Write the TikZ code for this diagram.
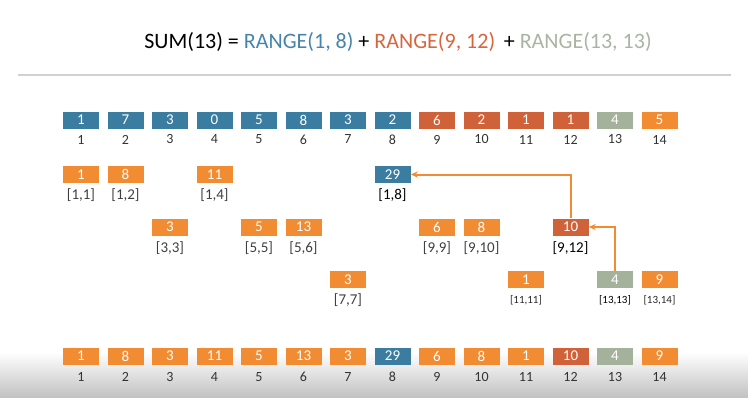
\documentclass[tikz,border=0pt]{standalone}
\usepackage{fontspec}
\setmainfont{Carlito}
\usetikzlibrary{arrows.meta,positioning}

\definecolor{cblue}{RGB}{58,125,160}
\definecolor{cred}{RGB}{208,98,58}
\definecolor{cgreen}{RGB}{165,178,155}
\definecolor{corange}{RGB}{242,140,51}
\definecolor{tblue}{RGB}{70,132,172}
\definecolor{tred}{RGB}{214,102,62}
\definecolor{tgreen}{RGB}{170,180,162}

\begin{document}
\begin{tikzpicture}[x=1pt, y=-1pt, >=Stealth,
    cell/.style={minimum width=36pt, minimum height=17pt, inner sep=0pt, text=white, font=\fontsize{15}{15}\selectfont},
    idx/.style={inner sep=0pt, text=black!80, font=\fontsize{14}{14}\selectfont},
    rng/.style={inner sep=0pt, text=black!75, font=\fontsize{15}{15}\selectfont},
    rngs/.style={inner sep=0pt, text=black!85, font=\fontsize{11}{11}\selectfont},
    link/.style={corange, line width=2pt, arrows={-Stealth[length=7pt, width=6pt]}}]
    \useasboundingbox (0,0) rectangle (748,397);
    \shade[top color=white, bottom color=black!24] (0,352) rectangle (748,397);
    % title and rule
    \node (title) at (398,42) {\fontsize{22}{24}\selectfont SUM(13) = \textcolor{tblue}{RANGE(1, 8)} + \textcolor{tred}{RANGE(9, 12)}\, + \textcolor{tgreen}{RANGE(13, 13)}};
    \draw[black!18, line width=1.6pt] (18,75) -- (731,75);
    % array a
    \foreach \v/\c [count=\i] in {1/cblue,7/cblue,3/cblue,0/cblue,5/cblue,8/cblue,3/cblue,2/cblue,6/cred,2/cred,1/cred,1/cred,4/cgreen,5/corange} {
        \node[cell, fill=\c] (a\i) at ({81+(\i-1)*44.5},120) {\v};
        \node[idx] at ([yshift=-19.5pt]a\i.center) {\i};
    }
    % tree array c
    \foreach \v/\c [count=\i] in {1/corange,8/corange,3/corange,11/corange,5/corange,13/corange,3/corange,29/cblue,6/corange,8/corange,1/corange,10/cred,4/cgreen,9/corange} {
        \node[cell, fill=\c] (c\i) at ({81+(\i-1)*44.5},356) {\v};
        \node[idx] at ([yshift=-21pt]c\i.center) {\i};
    }
    % level 1
    \node[cell, fill=corange] (r1-1) at (81,174.5) {1};
    \node[rng] at ([yshift=-21pt]r1-1.center) {[1,1]};
    \node[cell, fill=corange] (r1-2) at (125.5,174.5) {8};
    \node[rng] at ([yshift=-21pt]r1-2.center) {[1,2]};
    \node[cell, fill=corange] (r1-4) at (214.5,174.5) {11};
    \node[rng] at ([yshift=-21pt]r1-4.center) {[1,4]};
    \node[cell, fill=cblue] (r1-8) at (392.5,174.5) {29};
    \node[rng, text=black] at ([yshift=-21pt]r1-8.center) {[1,8]};
    % level 2
    \node[cell, fill=corange] (r3-3) at (170,227) {3};
    \node[rng] at ([yshift=-21pt]r3-3.center) {[3,3]};
    \node[cell, fill=corange] (r5-5) at (259,227) {5};
    \node[rng] at ([yshift=-21pt]r5-5.center) {[5,5]};
    \node[cell, fill=corange] (r5-6) at (303.5,227) {13};
    \node[rng] at ([yshift=-21pt]r5-6.center) {[5,6]};
    \node[cell, fill=corange] (r9-9) at (437,227) {6};
    \node[rng] at ([yshift=-21pt]r9-9.center) {[9,9]};
    \node[cell, fill=corange] (r9-10) at (481.5,227) {8};
    \node[rng] at ([yshift=-21pt]r9-10.center) {[9,10]};
    \node[cell, fill=cred] (r9-12) at (570.5,227) {10};
    \node[rng, text=black] at ([yshift=-21pt]r9-12.center) {[9,12]};
    % level 3
    \node[cell, fill=corange] (r7-7) at (348,279.5) {3};
    \node[rng] at ([yshift=-21pt]r7-7.center) {[7,7]};
    \node[cell, fill=corange] (r11-11) at (526,279.5) {1};
    \node[rngs] at ([yshift=-21pt]r11-11.center) {[11,11]};
    \node[cell, fill=cgreen] (r13-13) at (615,279.5) {4};
    \node[rngs, text=black] at ([yshift=-21pt]r13-13.center) {[13,13]};
    \node[cell, fill=corange] (r13-14) at (659.5,279.5) {9};
    \node[rngs] at ([yshift=-21pt]r13-14.center) {[13,14]};
    % query path
    \draw[link] (r9-12.north) |- (r1-8.east);
    \draw[link] (r13-13.north) |- (r9-12.east);
\end{tikzpicture}
\end{document}
